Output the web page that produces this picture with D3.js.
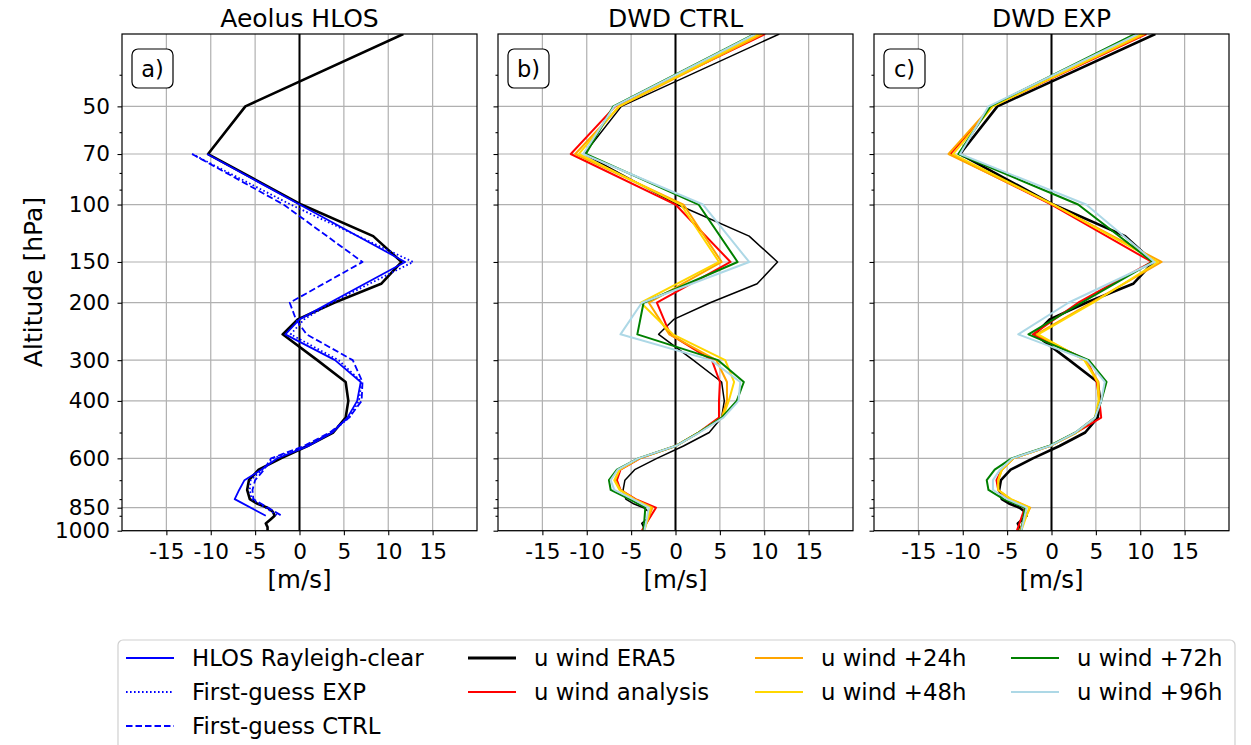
<!DOCTYPE html>
<html>
<head>
<meta charset="utf-8">
<script src="https://cdn.jsdelivr.net/npm/d3@7"></script>
<style>
body { margin: 0; background: white; }
svg { font-family: "DejaVu Sans", sans-serif; }
</style>
</head>
<body>
<svg id="chart" width="1251" height="745"></svg>
<script>
// pressure levels [hPa] and winds [m/s]
const eraLevels = [30, 50, 70, 100, 125, 150, 175, 200, 225, 250, 300, 350, 400, 450, 500, 550, 600, 650, 700, 750, 800, 825, 850, 875, 900, 925, 950, 975, 1000];
const era5 = [11.7, -6.1, -10.3, 0.2, 8.3, 11.5, 9.2, 3.9, -0.2, -1.9, 2.0, 5.2, 5.5, 5.2, 3.8, 0.9, -2.1, -4.6, -5.7, -5.9, -5.6, -4.8, -3.6, -3.0, -2.8, -3.3, -3.8, -3.6, -3.6];

const aeolusLevels = [70, 100, 150, 200, 225, 250, 300, 350, 400, 450, 500, 550, 600, 650, 700, 750, 800, 900];
const hlosRayleigh = [-10.4, 0.0, 11.9, 3.4, 0.0, -1.6, 4.0, 6.9, 6.5, 5.4, 3.7, 1.0, -2.5, -4.3, -6.2, -6.8, -7.3, -3.8];
const fgExp = [-12.1, -1.0, 12.8, 3.6, 0.5, -1.0, 4.4, 7.0, 6.7, 5.6, 3.6, 0.8, -3.0, -4.2, -5.5, -5.6, -5.4, -2.4];
const fgCtrl = [-12.1, -1.8, 7.1, -1.1, -0.4, 0.8, 6.0, 7.1, 7.0, 5.6, 3.4, 0.5, -3.2, -4.0, -5.0, -5.3, -5.2, -2.0];

const modelLevels = [30, 50, 70, 100, 150, 200, 250, 300, 350, 400, 450, 500, 550, 600, 650, 700, 750, 800, 850, 1000];
const ctrlAna = [10.1, -6.8, -11.8, 0.0, 6.2, -2.1, -0.6, 4.1, 5.0, 4.9, 4.9, 2.6, 0.0, -4.0, -6.2, -6.6, -6.2, -4.5, -2.2, -3.8];
const ctrl24 = [9.8, -6.3, -11.3, 0.9, 5.2, -3.0, -0.7, 4.6, 5.8, 5.8, 5.2, 2.6, 0.0, -4.1, -6.3, -6.8, -6.2, -4.6, -2.6, -3.6];
const ctrl48 = [9.4, -6.4, -10.9, 0.6, 4.9, -3.9, -0.3, 5.6, 6.6, 6.0, 5.3, 2.6, 0.0, -4.1, -6.3, -6.9, -6.3, -4.7, -2.8, -3.5];
const ctrl72 = [8.9, -7.0, -10.1, 2.6, 7.0, -3.6, -4.3, 4.8, 7.7, 6.9, 5.2, 2.6, 0.0, -4.2, -6.6, -7.5, -7.3, -5.2, -3.4, -3.6];
const ctrl96 = [9.0, -6.9, -10.4, 3.1, 8.3, -3.8, -6.2, 4.0, 7.3, 7.1, 5.4, 2.7, 0.0, -4.2, -6.5, -7.3, -6.9, -4.8, -3.0, -3.5];
const expAna = [10.7, -6.7, -11.4, 0.0, 11.3, 3.0, -2.1, 4.0, 5.1, 5.4, 5.6, 2.8, -0.2, -4.3, -5.6, -6.2, -6.0, -4.8, -3.0, -3.9];
const exp24 = [10.5, -6.8, -11.6, 0.2, 12.4, 4.5, -1.7, 3.8, 5.3, 5.4, 4.9, 2.8, -0.2, -4.3, -5.6, -6.0, -6.0, -4.6, -2.4, -3.6];
const exp48 = [10.2, -6.6, -11.1, 0.2, 12.0, 4.7, -1.5, 3.7, 5.2, 5.3, 4.9, 2.8, -0.2, -4.3, -5.6, -6.0, -6.0, -4.6, -2.5, -3.4];
const exp72 = [9.4, -6.9, -10.5, 3.0, 11.4, 3.4, -2.6, 4.2, 6.2, 5.6, 4.9, 2.7, -0.3, -4.5, -6.4, -7.3, -7.1, -5.4, -3.0, -3.4];
const exp96 = [9.75, -7.1, -10.3, 3.9, 11.6, 1.9, -3.75, 4.0, 6.0, 5.6, 4.9, 2.7, -0.2, -4.4, -5.8, -6.6, -6.6, -5.0, -2.8, -3.4];

const xTicks = [-15, -10, -5, 0, 5, 10, 15];
const yTicks = [50, 70, 100, 150, 200, 300, 400, 600, 850, 1000];
const yMinor = [40, 60, 80, 90, 500, 700, 800, 900];
const titles = ["Aeolus HLOS", "DWD CTRL", "DWD EXP"];
const tags = ["a)", "b)", "c)"];

const svg = d3.select("#chart");
svg.append("rect").attr("width", 1251).attr("height", 745).attr("fill", "white");

const plotTop = 34, plotBottom = 530.7, plotW = 355;
const lefts = [122, 498, 874];
const y = d3.scaleLog().domain([1000, 30]).range([plotBottom, plotTop]);

function s(levels, values, color, width, dash) {
  return { pts: d3.zip(levels, values), color: color, width: width, dash: dash };
}

const panelSeries = [
  [s(eraLevels, era5, "black", 2.6),
   s(aeolusLevels, hlosRayleigh, "#0000ff", 1.8),
   s(aeolusLevels, fgExp, "#0000ff", 1.8, "1.6,2.4"),
   s(aeolusLevels, fgCtrl, "#0000ff", 1.8, "6.5,3")],
  [s(eraLevels, era5, "black", 1.5),
   s(modelLevels, ctrlAna, "red", 2),
   s(modelLevels, ctrl24, "orange", 2),
   s(modelLevels, ctrl48, "gold", 2),
   s(modelLevels, ctrl72, "green", 2),
   s(modelLevels, ctrl96, "lightblue", 2)],
  [s(eraLevels, era5, "black", 2.6),
   s(modelLevels, expAna, "red", 2),
   s(modelLevels, exp24, "orange", 2),
   s(modelLevels, exp48, "gold", 2),
   s(modelLevels, exp72, "green", 2),
   s(modelLevels, exp96, "lightblue", 2)]
];

lefts.forEach((left, i) => {
  const x = d3.scaleLinear().domain([-20, 20]).range([left, left + plotW]);
  const g = svg.append("g");

  g.append("clipPath").attr("id", "clip" + i)
    .append("rect").attr("x", left).attr("y", plotTop).attr("width", plotW).attr("height", plotBottom - plotTop);

  // grid
  g.selectAll(".gx").data(xTicks).join("line")
    .attr("x1", d => x(d)).attr("x2", d => x(d)).attr("y1", plotTop).attr("y2", plotBottom)
    .attr("stroke", "#b0b0b0").attr("stroke-width", 1.2);
  g.selectAll(".gy").data(yTicks).join("line")
    .attr("x1", left).attr("x2", left + plotW).attr("y1", d => y(d)).attr("y2", d => y(d))
    .attr("stroke", "#b0b0b0").attr("stroke-width", 1.2);

  // zero line
  g.append("line").attr("x1", x(0)).attr("x2", x(0)).attr("y1", plotTop).attr("y2", plotBottom)
    .attr("stroke", "black").attr("stroke-width", 2);

  const line = d3.line().x(d => x(d[1])).y(d => y(d[0]));
  const lines = g.append("g").attr("clip-path", "url(#clip" + i + ")");
  panelSeries[i].forEach(ser => {
    lines.append("path").attr("d", line(ser.pts)).attr("fill", "none")
      .attr("stroke", ser.color).attr("stroke-width", ser.width)
      .attr("stroke-dasharray", ser.dash || null).attr("stroke-linejoin", "round");
  });

  // frame
  g.append("rect").attr("x", left).attr("y", plotTop).attr("width", plotW).attr("height", plotBottom - plotTop)
    .attr("fill", "none").attr("stroke", "black").attr("stroke-width", 1.2);

  // axes
  const xAxis = g.append("g").attr("transform", `translate(0,${plotBottom})`)
    .call(d3.axisBottom(x).tickValues(xTicks).tickFormat(d => String(d)).tickSize(4.5).tickPadding(8));
  const yAxis = g.append("g").attr("transform", `translate(${left},0)`)
    .call(d3.axisLeft(y).tickValues(yTicks).tickFormat(i === 0 ? d => String(d) : "").tickSize(4.5).tickPadding(7.5));
  const yAxisMinor = g.append("g").attr("transform", `translate(${left},0)`)
    .call(d3.axisLeft(y).tickValues(yMinor).tickFormat("").tickSize(2.5));
  [xAxis, yAxis, yAxisMinor].forEach(a => {
    a.select(".domain").remove();
    a.selectAll("line").attr("stroke", "black").attr("stroke-width", 1.1);
    a.selectAll("text").attr("font-size", 21.6).attr("fill", "black").attr("font-family", "DejaVu Sans");
  });

  // titles and labels
  g.append("text").attr("x", left + plotW / 2).attr("y", 27).attr("text-anchor", "middle")
    .attr("font-size", 25).text(titles[i]);
  g.append("text").attr("x", left + plotW / 2).attr("y", 588).attr("text-anchor", "middle")
    .attr("font-size", 24.5).text("[m/s]");

  // panel tag box
  g.append("rect").attr("x", left + 10).attr("y", 49).attr("width", 41).attr("height", 39).attr("rx", 6)
    .attr("fill", "white").attr("stroke", "black").attr("stroke-width", 1.2);
  g.append("text").attr("x", left + 30.5).attr("y", 77).attr("text-anchor", "middle")
    .attr("font-size", 22.5).text(tags[i]);
});

svg.append("text").attr("transform", "translate(42,282) rotate(-90)").attr("text-anchor", "middle")
  .attr("font-size", 25).text("Altitude [hPa]");

// legend
const legendLabels = ["HLOS Rayleigh-clear", "First-guess EXP", "First-guess CTRL", "u wind ERA5", "u wind analysis",
  "u wind +24h", "u wind +48h", "u wind +72h", "u wind +96h"];
const legendColors = ["#0000ff", "#0000ff", "#0000ff", "black", "red", "orange", "gold", "green", "lightblue"];
const legendWidths = [1.8, 1.8, 1.8, 3, 2, 2, 2, 2, 2];
const legendDash = [null, "1.6,2.4", "6.5,3", null, null, null, null, null, null];
const legendCol = [0, 0, 0, 1, 1, 2, 2, 3, 3];
const legendRow = [0, 1, 2, 0, 1, 0, 1, 0, 1];
const colX = [126, 468, 755, 1011];
const rowY = [658, 692, 726];

svg.append("rect").attr("x", 118).attr("y", 640).attr("width", 1117).attr("height", 130).attr("rx", 5)
  .attr("fill", "white").attr("stroke", "#d0d0d0").attr("stroke-width", 1.2);

legendLabels.forEach((lab, k) => {
  const lx = colX[legendCol[k]], ly = rowY[legendRow[k]];
  svg.append("line").attr("x1", lx).attr("x2", lx + 48).attr("y1", ly).attr("y2", ly)
    .attr("stroke", legendColors[k]).attr("stroke-width", legendWidths[k]).attr("stroke-dasharray", legendDash[k]);
  svg.append("text").attr("x", lx + 66).attr("y", ly + 8).attr("font-size", 22.8).text(lab);
});
</script>
</body>
</html>
